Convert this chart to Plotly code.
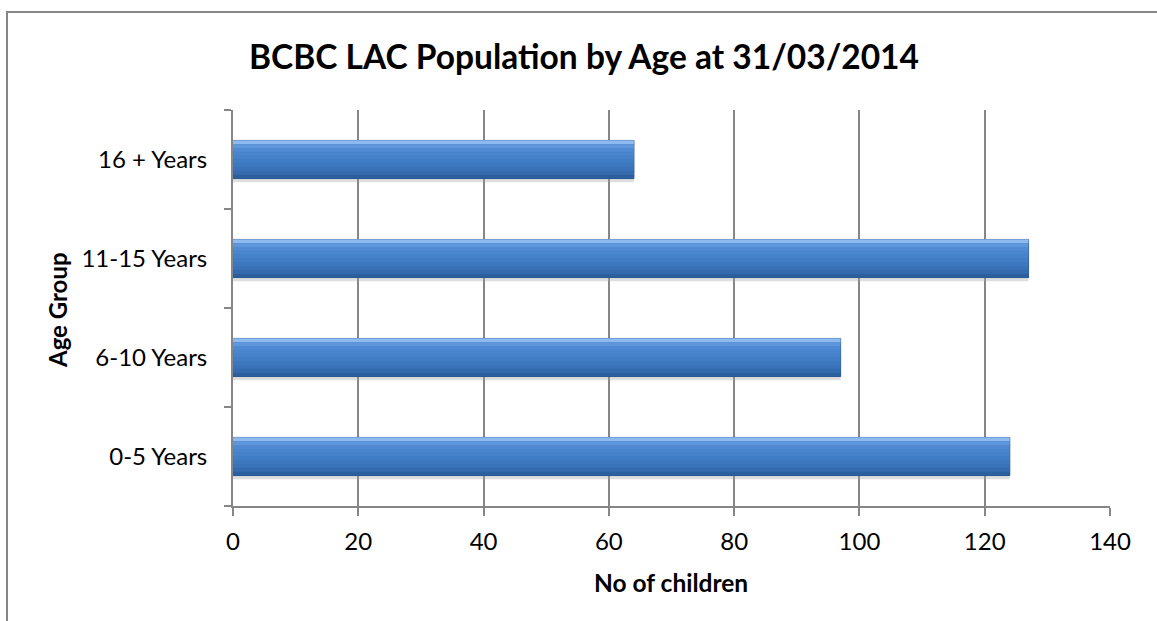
import plotly.graph_objects as go

# ---- data ----
categories = ["0-5 Years", "6-10 Years", "11-15 Years", "16 + Years"]
values = [124, 97, 127, 64]
x_ticks = [0, 20, 40, 60, 80, 100, 120, 140]

title_text = "BCBC LAC Population by Age at 31/03/2014"
x_title = "No of children"
y_title = "Age Group"

# ---- layout geometry (pixels) ----
W, H = 1157, 621
L, R, T, B = 233, 47, 110, 115
pw, ph = W - L - R, H - T - B

def px_x(p):
    return (p - L) / pw

def px_y(p):
    return (H - B - p) / ph

FONT = "Lato, 'Open Sans', sans-serif"
GRAY = "#868686"

bar_w = 0.385
strip_colors = ["#8fbaf0", "#5f97dc", "#4f8ad3", "#4986ce", "#4582ca",
                "#417dc5", "#3d78bf", "#3972b8", "#346bae", "#2c5f9e"]
N = len(strip_colors)

fig = go.Figure()
# soft shadow under bars (same data)
fig.add_trace(go.Bar(
    y=categories, x=values, orientation="h", width=bar_w * 0.2,
    offset=-bar_w / 2 - bar_w * 0.1,
    marker=dict(color="rgba(160,160,160,0.35)", line=dict(width=0)),
    hoverinfo="skip", showlegend=False,
))
# base bar with dark outline
fig.add_trace(go.Bar(
    y=categories, x=values, orientation="h", width=bar_w,
    marker=dict(color="#3d78bf", line=dict(color="#24508a", width=1)),
    hoverinfo="x+y", showlegend=False,
))
# gradient strips (same data)
for i, c in enumerate(strip_colors):
    fig.add_trace(go.Bar(
        y=categories, x=values, orientation="h",
        width=bar_w / N * 1.02,
        offset=bar_w / 2 - (i + 1) * bar_w / N,
        marker=dict(color=c, line=dict(width=0)),
        hoverinfo="skip", showlegend=False,
    ))

fig.update_layout(
    width=W, height=H,
    margin=dict(l=L, r=R, t=T, b=B),
    paper_bgcolor="white", plot_bgcolor="white",
    barmode="overlay",
    font=dict(family=FONT, color="black", size=24),
    title=dict(text="<b>" + title_text + "</b>", xref="container", yref="container",
               x=584 / W, y=1 - 57 / H, xanchor="center", yanchor="middle",
               font=dict(family=FONT, size=33.5, color="black")),
    xaxis=dict(range=[0, 140], tickvals=x_ticks, showgrid=True, gridcolor=GRAY, gridwidth=1.5,
               showline=True, linecolor=GRAY, linewidth=2, ticks="outside", ticklen=8,
               tickcolor=GRAY, tickwidth=2, zeroline=False, ticklabelstandoff=5,
               tickfont=dict(size=24, family=FONT)),
    yaxis=dict(type="category", categoryorder="array", categoryarray=categories,
               range=[-0.5, 3.5], tickson="boundaries", ticks="outside", ticklen=7,
               tickcolor=GRAY, tickwidth=2, showline=True, linecolor=GRAY, linewidth=2,
               showgrid=False, ticklabelstandoff=19, tickfont=dict(size=24, family=FONT)),
    annotations=[
        dict(text="<b>" + x_title + "</b>", xref="paper", yref="paper",
             x=px_x(671), y=px_y(582), showarrow=False, xanchor="center", yanchor="middle",
             font=dict(size=24.5, family=FONT)),
        dict(text="<b>" + y_title + "</b>", xref="paper", yref="paper",
             x=px_x(57), y=px_y(310), showarrow=False, textangle=-90,
             xanchor="center", yanchor="middle", font=dict(size=24, family=FONT)),
    ],
    shapes=[
        dict(type="rect", xref="paper", yref="paper",
             x0=px_x(7), x1=px_x(1170), y0=px_y(640), y1=px_y(12),
             line=dict(color=GRAY, width=2), fillcolor="rgba(0,0,0,0)", layer="below"),
    ],
)

fig.write_html("out.html")
